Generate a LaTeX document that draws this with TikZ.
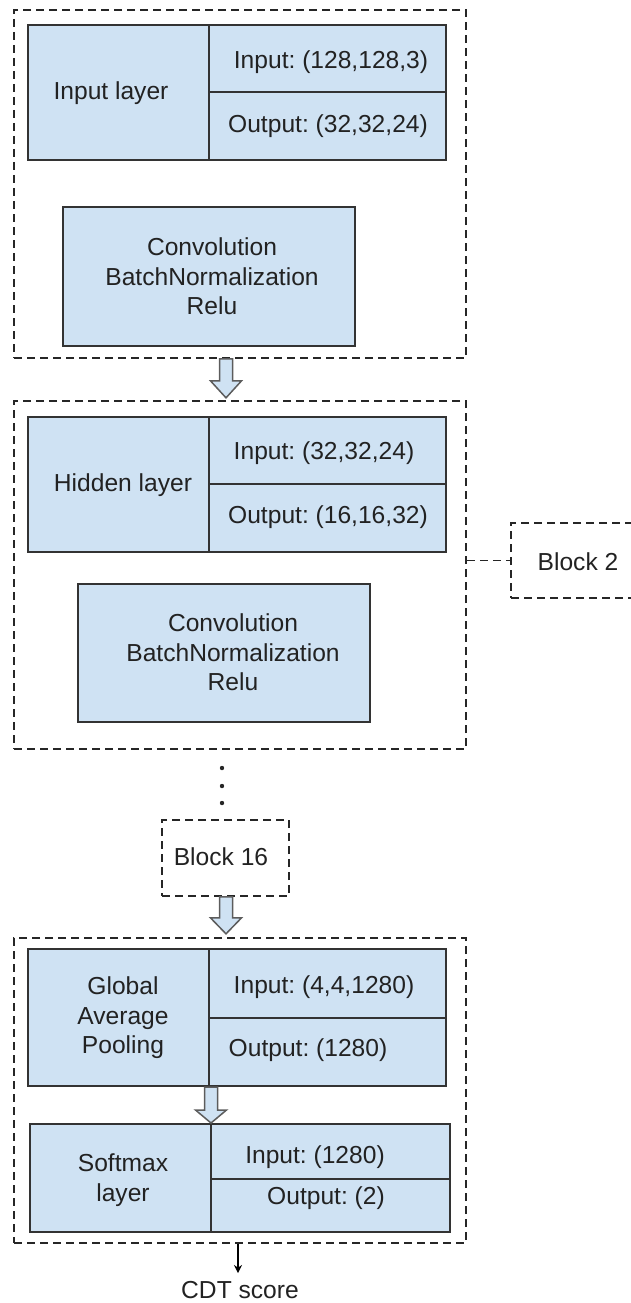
\documentclass[tikz,border=0pt]{standalone}
\usepackage{fontspec}
\setmainfont{Liberation Sans}
\usetikzlibrary{arrows.meta}
\definecolor{cellfill}{HTML}{CFE2F3}
\definecolor{linecol}{HTML}{333333}
\definecolor{txtcol}{HTML}{222222}
\frenchspacing
\tikzset{
  cell/.style={draw=linecol, fill=cellfill, line width=2pt, inner sep=0pt, minimum width=#1},
  cell/.default=181pt,
  dashbox/.style={draw=black!85, line width=1.7pt, dash pattern=on 8pt off 5pt, inner sep=0pt},
  txt/.style={text=txtcol, font=\frenchspacing\fontsize{24.6}{29.5}\selectfont, inner sep=0pt, align=center},
  harrow/.style={draw=linecol!80, fill=cellfill, line width=1.5pt, line join=miter},
  dotmark/.style={fill=black!85, draw=none}
}
\newcommand\hollowarrow[4]{%
  \draw[harrow] (#1,0 |- #2) ++(-6.5,0) -- ++(0,#3) -- ++(-9,0) -- ++(15.5,#4) -- ++(15.5,-#4) -- ++(-9,0) -- ++(0,-#3) -- cycle;}
\begin{document}
\begin{tikzpicture}[x=1pt,y=-1pt]
\useasboundingbox (0,0) rectangle (631,1303);
\clip (0,0) rectangle (631,1303);

% ---------- Block 1 ----------
\node[dashbox, minimum width=452pt, minimum height=348pt] (b1) at (240,184) {};
\node[cell, minimum height=135pt] (in1L) at (118.5,92.5) {};
\node[cell=237pt, minimum height=67pt] (in1T) at (327.5,58.5) {};
\node[cell=237pt, minimum height=68pt] (in1B) at (327.5,126) {};
\node[cell=292pt, minimum height=139pt] (conv1) at (209,276.5) {};
\node[txt] (in1Lt) at (111,93) {Input layer};
\node[txt] (in1Tt) at (331,62) {Input: (128,128,3)};
\node[txt] (in1Bt) at (328,126) {Output: (32,32,24)};
\node[txt] (conv1t) at (212,276.5) {Convolution\\BatchNormalization\\Relu};

% ---------- Block 2 ----------
\node[dashbox, minimum width=452pt, minimum height=348pt] (b2) at (240,575) {};
\node[cell, minimum height=135pt] (hidL) at (118.5,484.5) {};
\node[cell=237pt, minimum height=67pt] (hidT) at (327.5,450.5) {};
\node[cell=237pt, minimum height=68pt] (hidB) at (327.5,518) {};
\node[cell=292pt, minimum height=138pt] (conv2) at (224,653) {};
\node[txt] (hidLt) at (123,485) {Hidden layer};
\node[txt] (hidTt) at (324,453) {Input: (32,32,24)};
\node[txt] (hidBt) at (328,517) {Output: (16,16,32)};
\node[txt] (conv2t) at (233,652.5) {Convolution\\BatchNormalization\\Relu};

% Block 2 label
\node[dashbox, minimum width=134pt, minimum height=75pt] (blk2) at (578,560.5) {};
\node[txt] (blk2t) at (578,562) {Block 2};
\draw[dashbox] (blk2.west -| b2.east) -- (blk2.west);

% dots
\fill[dotmark] (222,768) circle (2.2pt);
\fill[dotmark] (222,786) circle (2.2pt);
\fill[dotmark] (222,803) circle (2.2pt);

% Block 16
\node[dashbox, minimum width=127pt, minimum height=76pt] (blk16) at (225.5,858) {};
\node[txt] (blk16t) at (221,857) {Block 16};

% ---------- Block 3 ----------
\node[dashbox, minimum width=452pt, minimum height=305pt] (b3) at (240,1090.5) {};
\node[cell, minimum height=137pt] (gapL) at (118.5,1017.5) {};
\node[cell=237pt, minimum height=69pt] (gapT) at (327.5,983.5) {};
\node[cell=237pt, minimum height=68pt] (gapB) at (327.5,1052) {};
\node[txt] (gapLt) at (123,1018) {Global\\Average\\Pooling};
\node[txt] (gapTt) at (324,987) {Input: (4,4,1280)};
\node[txt] (gapBt) at (308,1050) {Output: (1280)};

\node[cell, minimum height=108pt] (smL) at (120.5,1178) {};
\node[cell=239pt, minimum height=55pt] (smT) at (330.5,1151.5) {};
\node[cell=239pt, minimum height=53pt] (smB) at (330.5,1205.5) {};
\node[txt] (smLt) at (123,1180) {Softmax\\layer};
\node[txt] (smTt) at (315,1157) {Input: (1280)};
\node[txt] (smBt) at (326,1198) {Output: (2)};

% output
\node[txt] (cdt) at (240,1290) {CDT score};
\draw[line width=1.6pt, -{Stealth[length=8pt,width=8pt]}] (238,0 |- b3.south) -- (238,1273);

% hollow arrows
\hollowarrow{226}{b1.south}{22}{17}
\hollowarrow{226}{blk16.south}{21}{16}
\hollowarrow{211}{gapL.south}{23}{13}
\end{tikzpicture}
\end{document}
